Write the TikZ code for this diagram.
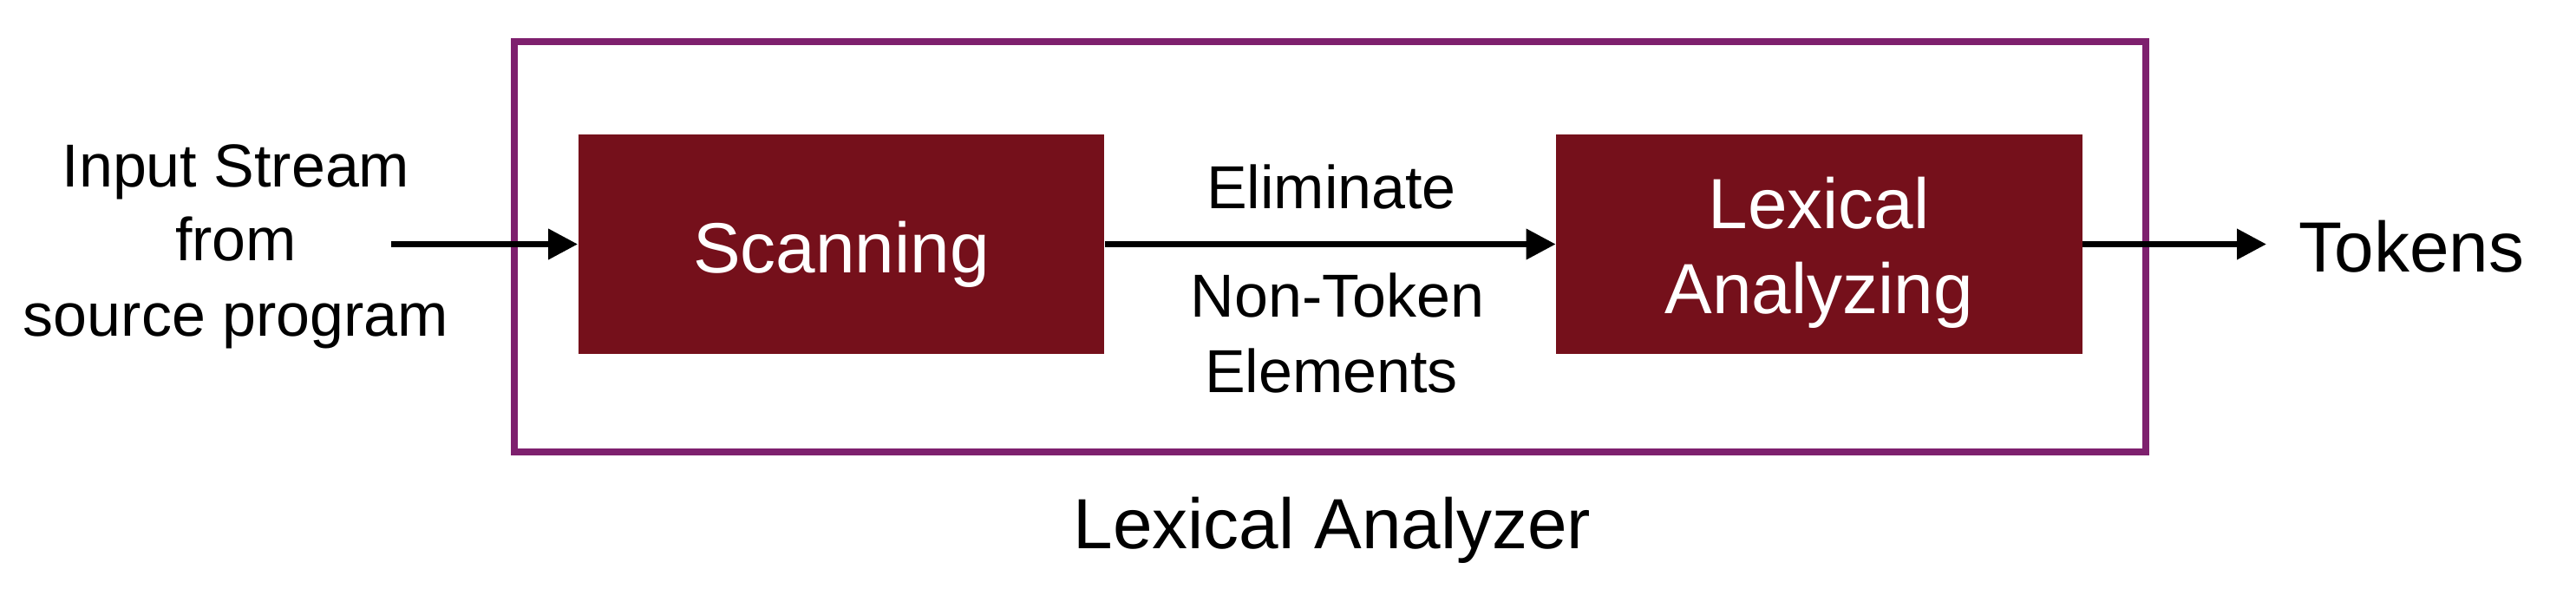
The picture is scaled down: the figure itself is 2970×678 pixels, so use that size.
\documentclass[tikz,border=0pt]{standalone}
\usepackage{fontspec}
\setmainfont{Liberation Sans}
\usetikzlibrary{arrows.meta}
\definecolor{boxred}{RGB}{117,16,27}
\definecolor{framepurple}{RGB}{126,32,110}
\tikzset{
  procbox/.style={rectangle, fill=boxred, draw=none, inner sep=0pt,
    minimum width=6.06cm, minimum height=2.53cm},
  frame/.style={draw=framepurple, line width=0.08cm},
  flow/.style={draw=black, line width=0.07cm,
    -{Triangle[length=0.34cm,width=0.34cm]}},
  small/.style={inner sep=0pt, anchor=base, font=\fontsize{19.9}{24}\selectfont},
  big/.style={inner sep=0pt, anchor=base, font=\fontsize{23.3}{28}\selectfont},
  boxtext/.style={big, text=white}
}
\begin{document}
\begin{tikzpicture}[x=0.01cm, y=-0.01cm]
\useasboundingbox (0,0) rectangle (2970,678);
% outer frame
\node[frame, rectangle, inner sep=0pt, minimum width=18.79cm, minimum height=4.73cm] (outer) at (1533.5,284.5) {};
% process boxes
\node[procbox] (scan) at (970,281.5) {};
\node[procbox] (lex) at (2097.5,281.5) {};
\node[boxtext] (scantxt) at (970,314) {Scanning};
\node[boxtext] (lextxtA) at (2097,263) {Lexical};
\node[boxtext] (lextxtB) at (2097,361) {Analyzing};
% input text
\node[small] (inA) at (272,215) {Input Stream};
\node[small] (inB) at (272,300) {from};
\node[small] (inC) at (272,387) {source program};
% middle labels
\node[small] (elimA) at (1535,240) {Eliminate};
\node[small] (elimB) at (1542,365) {Non-Token};
\node[small] (elimC) at (1535,452) {Elements};
% output
\node[big, anchor=base west] (tok) at (2650,313) {Tokens};
% caption
\node[big] (cap) at (1536,632) {Lexical Analyzer};
% connectors
\coordinate (inStart) at (451,281.5);
\coordinate (outEnd) at (2613,281.5);
\draw[flow] (inStart) -- (scan.west);
\draw[flow] (scan.east) -- (lex.west);
\draw[flow] (lex.east) -- (outEnd);
\end{tikzpicture}
\end{document}
